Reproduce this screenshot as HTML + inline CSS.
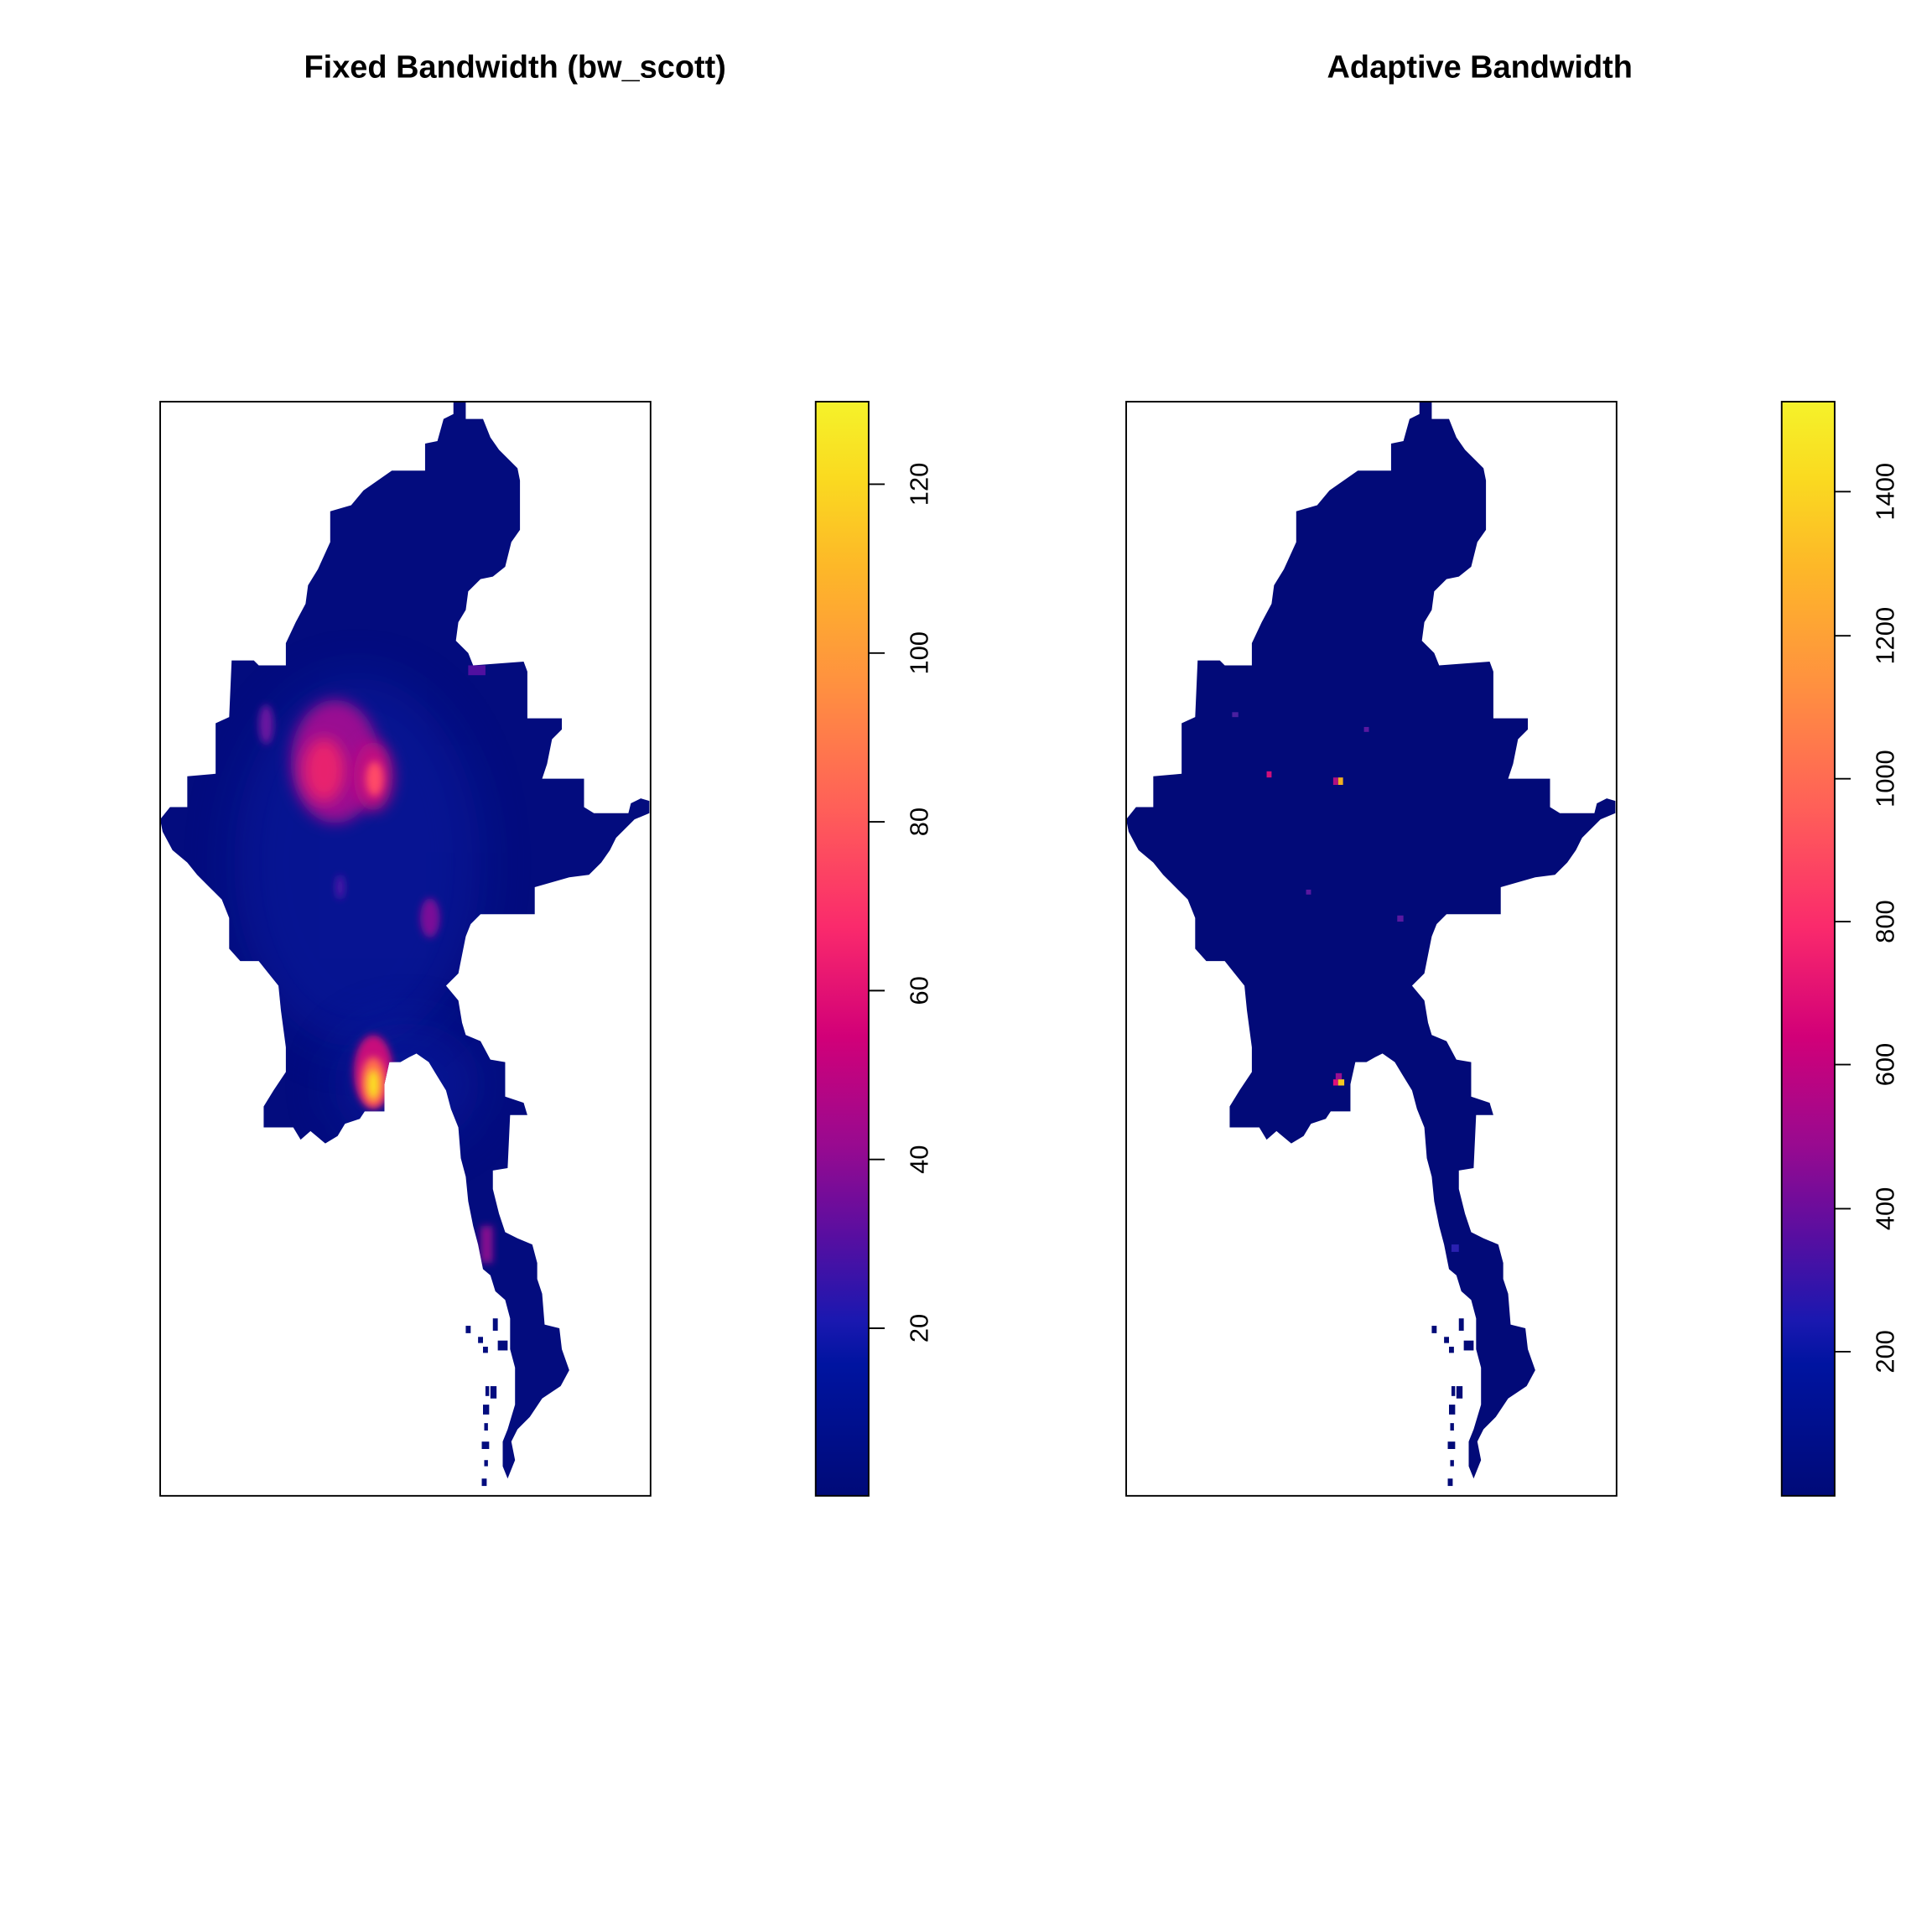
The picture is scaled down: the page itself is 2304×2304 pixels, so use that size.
<!DOCTYPE html>
<html><head><meta charset="utf-8"><style>
html,body{margin:0;padding:0;background:#fff;}
svg{display:block;}
</style></head><body>
<svg xmlns="http://www.w3.org/2000/svg" width="2304" height="2304" viewBox="0 0 1568 1568">
<defs>
<linearGradient id="cb" x1="0" y1="1" x2="0" y2="0">
<stop offset="0" stop-color="#000A78"/>
<stop offset="0.12" stop-color="#0014A0"/>
<stop offset="0.16" stop-color="#1A18B0"/>
<stop offset="0.24" stop-color="#5A0EA0"/>
<stop offset="0.32" stop-color="#980A90"/>
<stop offset="0.42" stop-color="#D20078"/>
<stop offset="0.52" stop-color="#FA2A6C"/>
<stop offset="0.63" stop-color="#FF6058"/>
<stop offset="0.74" stop-color="#FF9040"/>
<stop offset="0.85" stop-color="#FDB828"/>
<stop offset="0.93" stop-color="#FADA20"/>
<stop offset="1" stop-color="#F5F22A"/>
</linearGradient>
<path id="map" d="M368,326 L378,326 L378,340 L392,340 L398,355 L405,365 L412,372 L420,380 L422,390 L422,430 L415,440 L410,460 L400,468 L390,470 L380,480 L378,495 L372,505 L370,520 L380,530 L384,540 L425,537 L428,545 L428,583 L456,583 L456,592 L448,600 L444,620 L440,632 L474,632 L474,655 L482,660 L510,660 L512,652 L520,648 L527,650 L527,660 L515,665 L500,680 L495,690 L488,700 L478,710 L462,712 L448,716 L434,720 L434,742 L390,742 L382,750 L378,760 L375,775 L372,790 L362,800 L372,812 L375,830 L378,840 L390,845 L398,860 L410,862 L410,890 L425,895 L428,905 L414,905 L412,948 L400,950 L400,965 L405,985 L410,1000 L420,1005 L432,1010 L436,1025 L436,1038 L440,1050 L442,1075 L454,1078 L456,1095 L462,1112 L455,1125 L440,1135 L430,1150 L420,1160 L415,1170 L418,1185 L412,1200 L408,1190 L408,1170 L412,1160 L418,1140 L418,1110 L414,1095 L414,1070 L410,1055 L402,1048 L398,1035 L392,1030 L388,1010 L384,995 L380,975 L378,955 L374,940 L372,915 L366,900 L362,885 L354,872 L348,862 L338,855 L332,858 L325,862 L316,862 L312,880 L312,902 L296,902 L292,908 L280,912 L274,922 L264,928 L252,918 L244,925 L238,915 L226,915 L214,915 L214,898 L222,885 L232,870 L232,850 L228,820 L226,800 L218,790 L210,780 L195,780 L186,770 L186,745 L180,730 L170,720 L160,710 L152,700 L140,690 L132,675 L130,665 L138,655 L152,655 L152,630 L175,628 L175,587 L186,582 L188,536 L206,536 L210,540 L232,540 L232,522 L240,505 L248,490 L250,475 L258,462 L268,440 L268,415 L285,410 L295,398 L318,382 L345,382 L345,360 L355,358 L360,340 L368,336 Z"/>
<clipPath id="clipL"><use href="#map"/></clipPath>
<filter id="bl" x="-50%" y="-50%" width="200%" height="200%"><feGaussianBlur stdDeviation="6"/></filter>
<filter id="bl2" x="-50%" y="-50%" width="200%" height="200%"><feGaussianBlur stdDeviation="20"/></filter>
<filter id="bl3" x="-50%" y="-50%" width="200%" height="200%"><feGaussianBlur stdDeviation="3"/></filter>
<g id="islands">
<rect x="378" y="1076" width="4" height="6"/><rect x="388" y="1085" width="4" height="5"/><rect x="392" y="1093" width="4" height="5"/>
<rect x="400" y="1070" width="4" height="10"/><rect x="404" y="1088" width="8" height="8"/>
<rect x="394" y="1125" width="3" height="8"/><rect x="398" y="1125" width="5" height="10"/>
<rect x="392" y="1140" width="5" height="8"/><rect x="393" y="1155" width="3" height="6"/>
<rect x="391" y="1170" width="6" height="6"/><rect x="393" y="1185" width="3" height="5"/>
<rect x="391" y="1200" width="4" height="6"/>
</g>
</defs>
<rect width="1568" height="1568" fill="#fff"/>

<text x="418" y="63" font-family="Liberation Sans, sans-serif" font-weight="bold" font-size="25.8" text-anchor="middle">Fixed Bandwidth (bw_scott)</text>
<text x="1201" y="63" font-family="Liberation Sans, sans-serif" font-weight="bold" font-size="25.8" text-anchor="middle">Adaptive Bandwidth</text>

<!-- Left map -->
<g>
<use href="#map" fill="#030C7E"/>
<g fill="#030C7E"><use href="#islands"/></g>
<g clip-path="url(#clipL)">
<ellipse cx="290" cy="700" rx="100" ry="150" fill="#0A20B0" opacity="0.4" filter="url(#bl2)"/>
<ellipse cx="330" cy="880" rx="60" ry="50" fill="#0A20B0" opacity="0.4" filter="url(#bl2)"/>
<ellipse cx="272" cy="618" rx="36" ry="50" fill="#9A0E92" filter="url(#bl)"/>
<ellipse cx="263" cy="625" rx="17" ry="26" fill="#E8206E" filter="url(#bl)"/>
<ellipse cx="303" cy="630" rx="16" ry="28" fill="#C20880" filter="url(#bl)"/>
<ellipse cx="304" cy="632" rx="7" ry="14" fill="#FF4868" filter="url(#bl3)"/>
<ellipse cx="216" cy="588" rx="6" ry="16" fill="#6A12A0" filter="url(#bl3)"/>
<ellipse cx="276" cy="720" rx="4" ry="10" fill="#4A14A8" filter="url(#bl3)"/>
<ellipse cx="349" cy="745" rx="8" ry="16" fill="#7A0E98" filter="url(#bl3)"/>
<ellipse cx="303" cy="870" rx="16" ry="30" fill="#C8087C" filter="url(#bl3)"/>
<ellipse cx="303" cy="878" rx="10" ry="20" fill="#FF6A50" filter="url(#bl3)"/>
<ellipse cx="303" cy="880" rx="5" ry="12" fill="#FAE020" filter="url(#bl3)"/>
<rect x="390" y="995" width="10" height="30" fill="#8A0A90" filter="url(#bl3)"/>
<rect x="380" y="540" width="14" height="8" fill="#5010A0"/>
</g>
</g>
<rect x="130" y="326" width="398" height="888" fill="none" stroke="#000" stroke-width="1.3"/>

<!-- Right map -->
<g transform="translate(784,0)">
<use href="#map" fill="#020A78"/>
<g fill="#020A78"><use href="#islands"/></g>
<rect x="302" y="631" width="4" height="6" fill="#F0B020"/>
<rect x="298" y="631" width="4" height="6" fill="#B01080"/>
<rect x="244" y="626" width="4" height="5" fill="#D0107A"/>
<rect x="300" y="871" width="5" height="5" fill="#9A1090"/>
<rect x="298" y="876" width="4" height="5" fill="#E0107A"/>
<rect x="302" y="876" width="5" height="5" fill="#F5C820"/>
<rect x="216" y="578" width="5" height="4" fill="#4A20A0"/>
<rect x="323" y="590" width="4" height="4" fill="#5A18A0"/>
<rect x="276" y="722" width="4" height="4" fill="#5A18A0"/>
<rect x="350" y="743" width="5" height="5" fill="#5A18A0"/>
<rect x="394" y="1010" width="6" height="6" fill="#2A20B0"/>
</g>
<rect x="914" y="326" width="398" height="888" fill="none" stroke="#000" stroke-width="1.3"/>

<!-- Left colorbar -->
<rect x="662" y="326" width="43" height="888" fill="url(#cb)" stroke="#000" stroke-width="1.3"/>
<g stroke="#000" stroke-width="1.3">
<line x1="705" y1="1078" x2="718" y2="1078"/><line x1="705" y1="941" x2="718" y2="941"/>
<line x1="705" y1="804" x2="718" y2="804"/><line x1="705" y1="667" x2="718" y2="667"/>
<line x1="705" y1="530" x2="718" y2="530"/><line x1="705" y1="393" x2="718" y2="393"/>
</g>
<g font-family="Liberation Sans, sans-serif" font-size="21" text-anchor="middle" fill="#000">
<text transform="translate(753,1078) rotate(-90)">20</text>
<text transform="translate(753,941) rotate(-90)">40</text>
<text transform="translate(753,804) rotate(-90)">60</text>
<text transform="translate(753,667) rotate(-90)">80</text>
<text transform="translate(753,530) rotate(-90)">100</text>
<text transform="translate(753,393) rotate(-90)">120</text>
</g>

<!-- Right colorbar -->
<rect x="1446" y="326" width="43" height="888" fill="url(#cb)" stroke="#000" stroke-width="1.3"/>
<g stroke="#000" stroke-width="1.3">
<line x1="1489" y1="1097" x2="1502" y2="1097"/><line x1="1489" y1="981" x2="1502" y2="981"/>
<line x1="1489" y1="864" x2="1502" y2="864"/><line x1="1489" y1="748" x2="1502" y2="748"/>
<line x1="1489" y1="632" x2="1502" y2="632"/><line x1="1489" y1="516" x2="1502" y2="516"/>
<line x1="1489" y1="399" x2="1502" y2="399"/>
</g>
<g font-family="Liberation Sans, sans-serif" font-size="21" text-anchor="middle" fill="#000">
<text transform="translate(1537,1097) rotate(-90)">200</text>
<text transform="translate(1537,981) rotate(-90)">400</text>
<text transform="translate(1537,864) rotate(-90)">600</text>
<text transform="translate(1537,748) rotate(-90)">800</text>
<text transform="translate(1537,632) rotate(-90)">1000</text>
<text transform="translate(1537,516) rotate(-90)">1200</text>
<text transform="translate(1537,399) rotate(-90)">1400</text>
</g>
</svg>
</body></html>
